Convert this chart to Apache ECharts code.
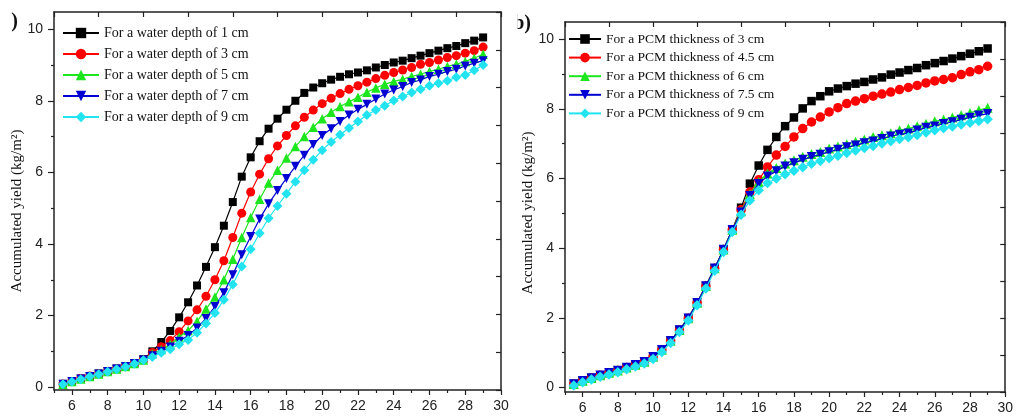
<!DOCTYPE html>
<html><head><meta charset="utf-8">
<script src="https://cdn.jsdelivr.net/npm/echarts@6/dist/echarts.min.js"></script>
<style>html,body{margin:0;padding:0;background:#fff}#c{width:1016px;height:419px}</style>
</head><body><div id="c"></div>
<script>
// time (h)
const hours = [5.5,6,6.5,7,7.5,8,8.5,9,9.5,10,10.5,11,11.5,12,12.5,13,13.5,14,14.5,15,15.5,16,16.5,17,17.5,18,18.5,19,19.5,20,20.5,21,21.5,22,22.5,23,23.5,24,24.5,25,25.5,26,26.5,27,27.5,28,28.5,29];

const depthLabels = ['For a water depth of 1 cm','For a water depth of 3 cm','For a water depth of 5 cm','For a water depth of 7 cm','For a water depth of 9 cm'];
const depth1 = [0.09,0.17,0.24,0.31,0.38,0.45,0.52,0.59,0.67,0.78,1.00,1.26,1.57,1.95,2.37,2.84,3.36,3.91,4.51,5.17,5.88,6.42,6.87,7.22,7.50,7.75,8.00,8.22,8.37,8.49,8.59,8.67,8.74,8.79,8.85,8.93,9.00,9.07,9.12,9.19,9.26,9.33,9.40,9.47,9.53,9.61,9.68,9.77];
const depth3 = [0.09,0.16,0.24,0.31,0.37,0.44,0.51,0.58,0.66,0.76,0.97,1.13,1.30,1.55,1.85,2.16,2.54,3.00,3.53,4.18,4.86,5.45,5.95,6.38,6.74,7.03,7.30,7.54,7.74,7.92,8.07,8.20,8.32,8.42,8.52,8.62,8.71,8.79,8.86,8.93,9.02,9.07,9.14,9.21,9.26,9.33,9.40,9.50];
const depth5 = [0.08,0.16,0.23,0.30,0.37,0.44,0.51,0.58,0.66,0.76,0.93,1.05,1.20,1.40,1.58,1.84,2.18,2.52,3.00,3.57,4.18,4.74,5.25,5.70,6.06,6.40,6.72,7.00,7.26,7.50,7.68,7.84,7.97,8.10,8.24,8.36,8.46,8.54,8.60,8.68,8.74,8.82,8.88,8.96,9.02,9.10,9.19,9.30];
const depth7 = [0.08,0.16,0.23,0.30,0.37,0.44,0.51,0.58,0.66,0.76,0.88,1.00,1.12,1.28,1.44,1.65,1.92,2.25,2.64,3.14,3.70,4.21,4.70,5.12,5.49,5.83,6.17,6.48,6.78,7.03,7.22,7.42,7.60,7.76,7.90,8.05,8.19,8.30,8.40,8.51,8.58,8.68,8.74,8.82,8.88,8.97,9.05,9.12];
const depth9 = [0.08,0.15,0.22,0.30,0.36,0.43,0.50,0.57,0.65,0.75,0.84,0.96,1.06,1.20,1.32,1.52,1.78,2.07,2.44,2.87,3.37,3.85,4.30,4.72,5.06,5.40,5.74,6.06,6.35,6.62,6.85,7.05,7.24,7.42,7.60,7.74,7.86,8.01,8.12,8.23,8.32,8.42,8.49,8.56,8.66,8.72,8.85,9.00];

const pcmLabels = ['For a PCM thickness of 3 cm','For a PCM thickness of 4.5 cm','For a PCM thickness of 6 cm','For a PCM thickness of 7.5 cm','For a PCM thickness of 9 cm'];
const pcm3  = [0.10,0.19,0.27,0.35,0.42,0.49,0.57,0.65,0.74,0.88,1.08,1.34,1.65,1.99,2.43,2.91,3.42,3.96,4.53,5.16,5.85,6.37,6.82,7.19,7.50,7.75,8.01,8.22,8.36,8.50,8.58,8.65,8.72,8.77,8.84,8.90,8.98,9.04,9.11,9.17,9.25,9.31,9.37,9.44,9.51,9.58,9.65,9.73];
const pcm45 = [0.10,0.19,0.27,0.35,0.42,0.49,0.57,0.65,0.74,0.88,1.08,1.34,1.65,1.99,2.43,2.91,3.42,3.96,4.53,5.10,5.61,5.96,6.33,6.67,6.92,7.19,7.43,7.62,7.76,7.91,8.03,8.15,8.22,8.29,8.36,8.42,8.48,8.55,8.61,8.67,8.74,8.80,8.84,8.89,8.98,9.06,9.12,9.22];
const pcm6  = [0.10,0.19,0.27,0.35,0.42,0.49,0.57,0.65,0.74,0.88,1.08,1.34,1.65,1.99,2.43,2.91,3.42,3.96,4.53,5.06,5.55,5.90,6.14,6.30,6.43,6.52,6.62,6.70,6.76,6.86,6.92,6.98,7.05,7.12,7.19,7.24,7.30,7.38,7.43,7.50,7.57,7.64,7.69,7.75,7.81,7.88,7.96,8.03];
const pcm75 = [0.10,0.19,0.27,0.35,0.42,0.49,0.57,0.65,0.74,0.88,1.08,1.34,1.65,1.99,2.43,2.91,3.42,3.96,4.53,5.03,5.50,5.85,6.06,6.21,6.35,6.44,6.54,6.62,6.69,6.76,6.83,6.90,6.95,7.02,7.07,7.14,7.21,7.26,7.30,7.38,7.46,7.50,7.57,7.62,7.69,7.75,7.81,7.86];
const pcm9  = [0.06,0.15,0.23,0.31,0.37,0.44,0.52,0.60,0.69,0.82,1.02,1.28,1.59,1.92,2.36,2.84,3.35,3.89,4.46,4.96,5.37,5.66,5.87,6.00,6.12,6.22,6.32,6.42,6.50,6.58,6.65,6.73,6.80,6.87,6.93,7.00,7.07,7.13,7.18,7.25,7.32,7.38,7.44,7.49,7.55,7.60,7.65,7.70];

const xTickLabels = [6,8,10,12,14,16,18,20,22,24,26,28,30];
const xMajorTicks = [6,8,10,12,14,16,18,20,22,24,26,28,30];
const xMinorTicks = [5,7,9,11,13,15,17,19,21,23,25,27,29];
const xTopTicks = [5,7.5,10,12.5,15,17.5,20,22.5,25,27.5,30];
const yTickLabels = [0,2,4,6,8,10];
const yMinorTicks = [1,3,5,7,9];
const yTitle = 'Accumulated yield (kg/m\u00b2)';

const colors = ['#000000','#ff0000','#1ee61e','#0000d2','#22e4f0'];
const symbols = ['rect','circle','triangle','path://M0,0L2,0L1,1.75Z','diamond'];
const sizesLeft = [8,9,9.5,9,10];
const sizesRight = [8.5,9.5,10,9.5,10.5];

const AX = '#222';
const sans = 'Liberation Sans';
const serif = 'Liberation Serif';

function xAxes(grid) {
  return [
    {gridIndex: grid, type: 'value', position: 'bottom', min: 5, max: 30,
     axisLine: {show: true, onZero: false, lineStyle: {color: AX, width: 1.5}},
     axisTick: {show: true, inside: false, length: 5, customValues: xMajorTicks, lineStyle: {color: AX, width: 1.2}},
     axisLabel: {show: true, customValues: xTickLabels, margin: 9, fontFamily: sans, fontSize: 14, color: '#222'},
     splitLine: {show: false}},
    {gridIndex: grid, type: 'value', position: 'top', min: 5, max: 30,
     axisLine: {show: true, onZero: false, lineStyle: {color: AX, width: 1.5}},
     axisTick: {show: true, inside: true, length: 5, customValues: xTopTicks, lineStyle: {color: AX, width: 1.2}},
     axisLabel: {show: false}, splitLine: {show: false}},
    {gridIndex: grid, type: 'value', position: 'bottom', min: 5, max: 30,
     axisLine: {show: false, onZero: false},
     axisTick: {show: true, inside: false, length: 3, customValues: xMinorTicks, lineStyle: {color: AX, width: 1.2}},
     axisLabel: {show: false}, splitLine: {show: false}}
  ];
}
function yAxes(grid, ymin, ymax) {
  return [
    {gridIndex: grid, type: 'value', position: 'left', min: ymin, max: ymax,
     axisLine: {show: true, onZero: false, lineStyle: {color: AX, width: 1.5}},
     axisTick: {show: true, inside: false, length: 6, customValues: yTickLabels, lineStyle: {color: AX, width: 1.2}},
     axisLabel: {show: true, customValues: yTickLabels, margin: 11, fontFamily: sans, fontSize: 14, color: '#222'},
     splitLine: {show: false}},
    {gridIndex: grid, type: 'value', position: 'right', min: 0, max: 10, interval: 1,
     axisLine: {show: true, onZero: false, lineStyle: {color: AX, width: 1.5}},
     axisTick: {show: true, inside: true, length: 5, lineStyle: {color: AX, width: 1.2}},
     axisLabel: {show: false}, splitLine: {show: false}},
    {gridIndex: grid, type: 'value', position: 'left', min: ymin, max: ymax,
     axisLine: {show: false, onZero: false},
     axisTick: {show: true, inside: false, length: 3, customValues: yMinorTicks, lineStyle: {color: AX, width: 1.2}},
     axisLabel: {show: false}, splitLine: {show: false}}
  ];
}

function makeSeries(labels, arrays, xi, yi, sizes) {
  return arrays.map((arr, k) => ({
    name: labels[k], type: 'line', xAxisIndex: xi, yAxisIndex: yi,
    data: hours.map((h, i) => [h, arr[i]]),
    symbol: symbols[k], symbolSize: sizes[k], showSymbol: true,
    itemStyle: {color: colors[k], borderWidth: 0},
    lineStyle: {color: colors[k], width: 1.2},
    animation: false, z: 2 + k
  }));
}

const chart = echarts.init(document.getElementById('c'), null, {renderer: 'canvas'});
const option = {
  animation: false,
  backgroundColor: '#fff',
  grid: [
    {left: 54, top: 12, width: 447, height: 378},
    {left: 565, top: 22, width: 452, height: 370}
  ],
  xAxis: [].concat(xAxes(0), xAxes(1)),
  yAxis: [].concat(yAxes(0, -0.08, 10.48), yAxes(1, -0.13, 10.49)),
  legend: [
    {data: depthLabels, orient: 'vertical', left: 62, top: 25, padding: 0, itemWidth: 36, itemHeight: 13, itemGap: 5,
     textStyle: {fontFamily: serif, fontSize: 14, color: '#111', lineHeight: 16}},
    {data: pcmLabels, orient: 'vertical', left: 568, top: 32, padding: 0, itemWidth: 32, itemHeight: 12, itemGap: 4.6,
     textStyle: {fontFamily: serif, fontSize: 13.5, color: '#111', lineHeight: 14}}
  ],
  graphic: [
    {type: 'text', x: 18, y: 22, z: 100, style: {text: ')', font: 'bold 20px "Liberation Serif"', fill: '#111', textAlign: 'right', textVerticalAlign: 'middle'}},
    {type: 'text', x: 531, y: 24, z: 100, style: {text: '(b)', font: 'bold 20px "Liberation Serif"', fill: '#111', textAlign: 'right', textVerticalAlign: 'middle'}},
    {type: 'rect', x: 504, y: 4, z: 101, shape: {width: 13.5, height: 36}, style: {fill: '#fff'}},
    {type: 'text', x: 17, y: 211, rotation: Math.PI / 2, z: 100, style: {text: yTitle, font: '15px "Liberation Serif"', fill: '#111', textAlign: 'center', textVerticalAlign: 'middle'}},
    {type: 'text', x: 528, y: 213, rotation: Math.PI / 2, z: 100, style: {text: yTitle, font: '15px "Liberation Serif"', fill: '#111', textAlign: 'center', textVerticalAlign: 'middle'}}
  ],
  series: [].concat(
    makeSeries(depthLabels, [depth1, depth3, depth5, depth7, depth9], 0, 0, sizesLeft),
    makeSeries(pcmLabels, [pcm3, pcm45, pcm6, pcm75, pcm9], 3, 3, sizesRight)
  )
};
chart.setOption(option);
</script></body></html>
